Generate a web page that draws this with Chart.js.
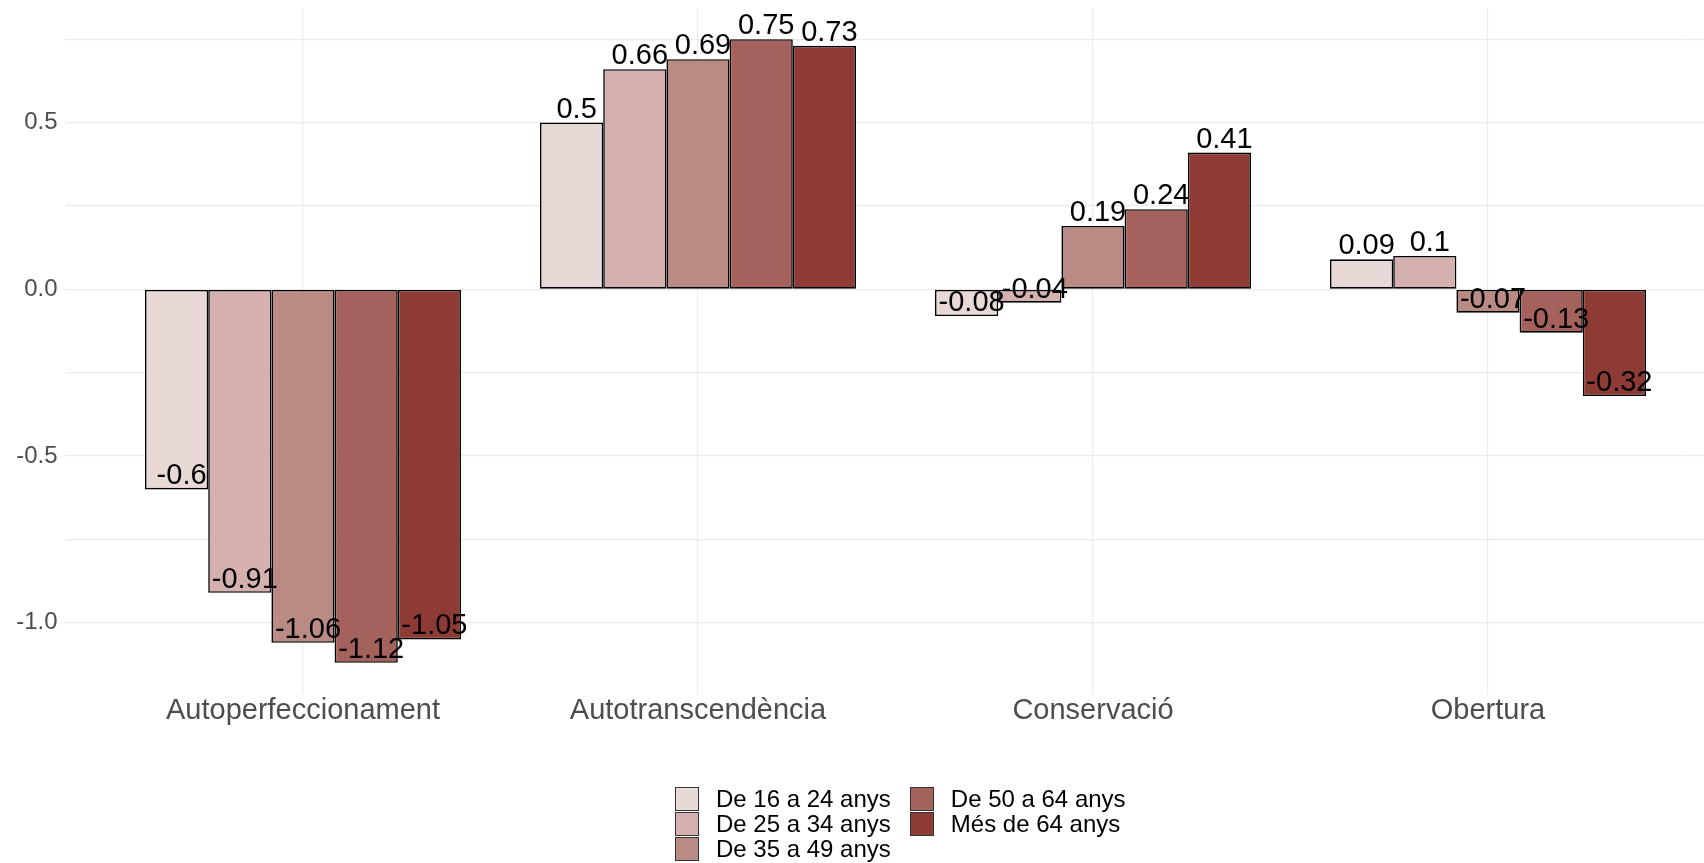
<!DOCTYPE html>
<html>
<head>
<meta charset="utf-8">
<script src="https://cdn.jsdelivr.net/npm/chart.js@4/dist/chart.umd.min.js"></script>
<style>
  html, body { margin: 0; padding: 0; background: #fff; }
  #wrap { position: relative; width: 1704px; height: 863px; }
  #legend {
    position: absolute; left: 675px; top: 786px;
    display: grid; grid-auto-flow: column; grid-template-rows: repeat(3, 25px);
    column-gap: 19px;
    font-family: "Liberation Sans", Arial, sans-serif; font-size: 24px; color: #000;
  }
  .item { display: flex; align-items: center; height: 25px; }
  .box { width: 22px; height: 22px; border: 1.5px solid #333; margin-right: 17px; }
</style>
</head>
<body>
<div id="wrap">
  <canvas id="chart" width="1704" height="863"></canvas>
  <div id="legend"></div>
</div>
<script>
// ========= Data =========
const categories = ["Autoperfeccionament", "Autotranscendència", "Conservació", "Obertura"];
const ageGroups = ["De 16 a 24 anys", "De 25 a 34 anys", "De 35 a 49 anys", "De 50 a 64 anys", "Més de 64 anys"];
const age16to24 = [-0.6, 0.5, -0.08, 0.09];
const age25to34 = [-0.91, 0.66, -0.04, 0.1];
const age35to49 = [-1.06, 0.69, 0.19, -0.07];
const age50to64 = [-1.12, 0.75, 0.24, -0.13];
const ageOver64 = [-1.05, 0.73, 0.41, -0.32];
const seriesValues = [age16to24, age25to34, age35to49, age50to64, ageOver64];
const colors = ["#E8D9D7", "#D4B0AE", "#BA8A84", "#A5625C", "#8E3B35"];

const FONT = "'Liberation Sans', Arial, sans-serif";
const GRID = "#EBEBEB";

// ========= Helpers =========
const quarterTicks = (scale) => {
    scale.ticks = scale.ticks.filter(t => Math.abs(t.value * 4 - Math.round(t.value * 4)) < 1e-6);
};

const valueLabels = {
    id: "valueLabels",
    afterDatasetsDraw(chart) {
        const ctx = chart.ctx;
        ctx.save();
        ctx.font = "29px " + FONT;
        ctx.fillStyle = "#000";
        ctx.textAlign = "center";
        ctx.textBaseline = "alphabetic";
        chart.data.datasets.forEach((ds, i) => {
            chart.getDatasetMeta(i).data.forEach((bar, j) => {
                ctx.fillText(String(ds.data[j]), bar.x + 5, bar.y - 5);
            });
        });
        ctx.restore();
    },
};

// ========= Chart =========
const chart = new Chart(document.getElementById("chart"), {
    type: "bar",
    data: {
        labels: categories,
        datasets: ageGroups.map((g, i) => ({
            label: g,
            data: seriesValues[i],
            backgroundColor: colors[i],
            borderColor: "#000",
            borderWidth: 1.6,
            borderSkipped: false,
            categoryPercentage: 0.8,
            barPercentage: 1.0,
        })),
    },
    options: {
        responsive: false,
        animation: false,
        layout: { padding: { left: 15.5, right: 0, top: 8, bottom: 135 } },
        plugins: {
            legend: { display: false },
            tooltip: { enabled: false },
        },
        scales: {
            x: {
                offset: true,
                grid: { offset: false, color: GRID, lineWidth: 1.2, drawTicks: false },
                border: { display: false },
                ticks: { color: "#4D4D4D", padding: 0, font: { family: FONT, size: 29 } },
                afterFit: (s) => { s.height = 34; s.paddingLeft = 0; s.paddingRight = 0; },
            },
            y: {
                min: -1.2135,
                max: 0.8435,
                ticks: {
                    stepSize: 0.25,
                    color: "#4D4D4D",
                    padding: 8,
                    font: { family: FONT, size: 24 },
                    callback: (v) => (Math.abs(v * 2 - Math.round(v * 2)) < 1e-6 ? v.toFixed(1) : ""),
                },
                afterBuildTicks: quarterTicks,
                grid: { color: GRID, lineWidth: 1.2, tickLength: 40 },
                border: { display: false },
                afterFit: (s) => { s.width = 90; s.paddingTop = 0; s.paddingBottom = 0; },
            },
            y2: {
                position: "right",
                min: -1.2135,
                max: 0.8435,
                ticks: { stepSize: 0.25, display: false },
                afterBuildTicks: quarterTicks,
                grid: { color: GRID, lineWidth: 1.2, drawOnChartArea: false, tickLength: 18.5 },
                border: { display: false },
                afterFit: (s) => { s.width = 18.5; s.paddingTop = 0; s.paddingBottom = 0; },
            },
        },
    },
    plugins: [valueLabels],
});

// ========= Legend (column-major, like the source) =========
const legendEl = document.getElementById("legend");
ageGroups.forEach((g, i) => {
    const item = document.createElement("div");
    item.className = "item";
    item.innerHTML = `<span class="box" style="background:${colors[i]}"></span><span>${g}</span>`;
    legendEl.appendChild(item);
});
</script>
</body>
</html>
